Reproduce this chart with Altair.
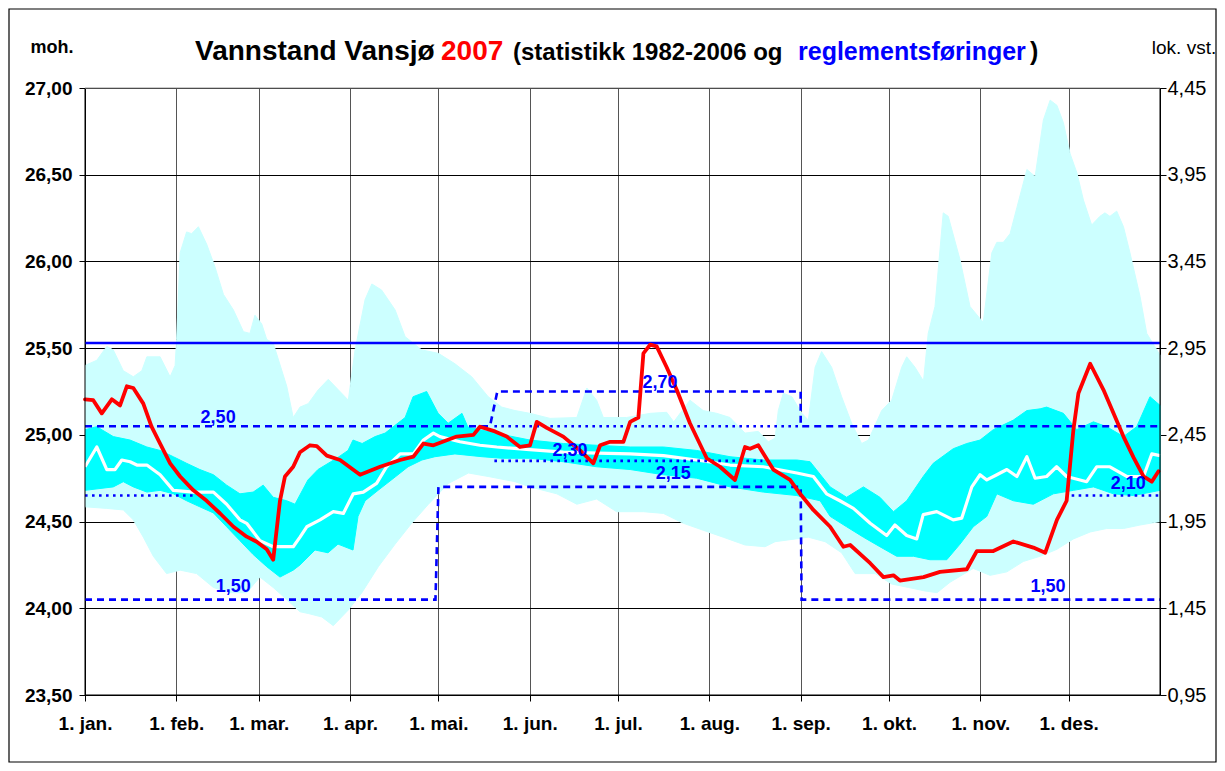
import json
import altair as alt
import pandas as pd

# moh. = lok. vst. + OFFSET
OFFSET = 22.55

# x = day of year 2007 (0 = 1 January)
month_days = [0, 31, 59, 90, 120, 151, 181, 212, 243, 273, 304, 334]
month_labels = ["1. jan.", "1. feb.", "1. mar.", "1. apr.", "1. mai.", "1. jun.",
                "1. jul.", "1. aug.", "1. sep.", "1. okt.", "1. nov.", "1. des."]
y_ticks = [23.5, 24.0, 24.5, 25.0, 25.5, 26.0, 26.5, 27.0]

# Water level 2007 (moh.)
red_day = [0, 2.8, 5.7, 9.1, 11.9, 14.2, 16.4, 19.8, 22.6, 25.5,
           28.9, 32.3, 36.8, 41.3, 45.8, 50.4, 54.9, 58.3, 61.7, 63.9,
           66.2, 67.9, 70.7, 73.0, 76.4, 78.7, 82.1, 86.6, 93.4, 100.2,
           107.0, 111.5, 114.9, 118.3, 126.2, 131.9, 134.1, 139.2, 143.2, 147.7,
           151.1, 153.4, 156.8, 162.4, 168.1, 172.6, 174.9, 178.3, 182.8, 185.1,
           187.9, 189.6, 191.9, 194.1, 197.5, 200.9, 205.4, 211.1, 215.6, 220.7,
           224.1, 225.8, 228.6, 233.7, 239.4, 242.8, 247.3, 253.0, 257.5, 259.8,
           266.6, 271.1, 274.5, 276.7, 284.7, 290.3, 299.4, 302.8, 308.4, 315.2,
           322.0, 326.0, 330.0, 333.3, 335.6, 337.3, 341.3, 345.8, 352.6, 356.0,
           359.4, 362.2, 364.5]
red_moh = [25.205, 25.20, 25.124, 25.205, 25.17, 25.28, 25.27, 25.18, 25.047, 24.95,
           24.836, 24.76, 24.68, 24.62, 24.548, 24.47, 24.413, 24.384, 24.34, 24.28,
           24.62, 24.76, 24.816, 24.90, 24.94, 24.935, 24.88, 24.855, 24.77, 24.816,
           24.855, 24.874, 24.95, 24.94, 24.99, 25.00, 25.047, 25.02, 24.99, 24.93,
           24.94, 25.075, 25.04, 24.99, 24.91, 24.836, 24.94, 24.96, 24.96, 25.075,
           25.10, 25.47, 25.52, 25.51, 25.39, 25.26, 25.067, 24.865, 24.816, 24.74,
           24.93, 24.92, 24.94, 24.80, 24.74, 24.66, 24.567, 24.47, 24.355, 24.365,
           24.26, 24.18, 24.19, 24.16, 24.18, 24.21, 24.225, 24.33, 24.33, 24.385,
           24.35, 24.32, 24.51, 24.62, 25.03, 25.24, 25.41, 25.26, 24.99, 24.87,
           24.76, 24.73, 24.79]

# Median 1982-2006 (white line)
med_day = [0, 4.0, 7.4, 10.2, 12.5, 15.3, 17.6, 21.0, 25.5, 30.0,
           36.8, 43.6, 48.1, 52.6, 54.9, 59.4, 63.9, 68.5, 70.7, 73.0,
           75.3, 79.8, 84.3, 87.7, 91.1, 94.5, 99.0, 102.4, 107.0, 111.5,
           114.9, 118.3, 120.5, 127.3, 134.1, 139.8, 151, 162.4, 174, 185.1,
           196.4, 207.7, 219.0, 230.3, 241.7, 247.3, 251.8, 256.3, 260.9, 266.6,
           272.2, 275.0, 279.0, 282.4, 284.6, 289.2, 294.8, 297.7, 301.1, 303.9,
           306.2, 309.6, 313.0, 316.4, 319.8, 322.6, 326.5, 329.9, 333.3, 340.1,
           343.5, 348.0, 353.7, 359.4, 362.2, 365]
med_moh = [24.816, 24.93, 24.80, 24.80, 24.855, 24.845, 24.826, 24.826, 24.77, 24.68,
           24.67, 24.67, 24.60, 24.51, 24.49, 24.39, 24.355, 24.355, 24.355, 24.41,
           24.47, 24.51, 24.557, 24.547, 24.66, 24.67, 24.72, 24.816, 24.89, 24.89,
           24.97, 25.01, 24.99, 24.96, 24.94, 24.93, 24.915, 24.90, 24.895, 24.89,
           24.88, 24.855, 24.826, 24.816, 24.78, 24.76, 24.66, 24.62, 24.576, 24.49,
           24.42, 24.48, 24.42, 24.40, 24.54, 24.557, 24.51, 24.52, 24.70, 24.77,
           24.74, 24.77, 24.80, 24.76, 24.874, 24.75, 24.76, 24.816, 24.76, 24.73,
           24.816, 24.816, 24.76, 24.76, 24.89, 24.88]

# Inner band (cyan), upper edge
q_hi_day = [0, 4.0, 9.6, 15.3, 21.0, 25.5, 30.0, 34.5, 39.0, 43.6,
            48.1, 52.6, 57.1, 60.5, 63.9, 68.5, 71.3, 75.7, 79.1, 85.9,
            89.3, 91.0, 94.1, 98.5, 101.9, 108.7, 111.4, 116.0, 119.9, 123.3,
            128.0, 130.0, 139.2, 151.1, 162.4, 173.7, 185.1, 196.4, 207.7, 219.0,
            230.3, 241.7, 246.2, 253.0, 258.6, 264.3, 269.9, 274.5, 279.0, 284.6,
            288.0, 294.8, 299.4, 303.9, 308.4, 315.2, 319.8, 324.3, 326.5, 332.2,
            336.7, 342.4, 346.9, 352.6, 357.1, 361.6, 365]
q_hi_moh = [25.03, 25.047, 24.99, 24.97, 24.93, 24.91, 24.874, 24.836, 24.80, 24.77,
            24.71, 24.66, 24.67, 24.71, 24.64, 24.62, 24.60, 24.74, 24.80, 24.87,
            24.91, 24.97, 24.95, 24.99, 25.01, 25.10, 25.22, 25.25, 25.124, 25.067,
            25.124, 25.045, 25.01, 24.97, 24.95, 24.94, 24.93, 24.93, 24.91, 24.874,
            24.855, 24.855, 24.845, 24.70, 24.64, 24.70, 24.64, 24.557, 24.62, 24.76,
            24.836, 24.92, 24.95, 24.97, 25.03, 25.085, 25.14, 25.15, 25.16, 25.124,
            25.03, 25.075, 25.047, 24.99, 25.047, 25.22, 25.17]
# Inner band (cyan), lower edge
q_lo_day = [0, 9.6, 13.0, 16.4, 21.0, 25.5, 30.0, 34.5, 39.0, 43.6,
            48.1, 52.6, 57.1, 61.7, 66.2, 70.7, 73.0, 78.1, 82.5, 85.9,
            91.0, 92.7, 95.1, 99.5, 105.3, 109.7, 114.4, 118.8, 125.6, 134.8,
            141.6, 151.1, 162.4, 173.7, 185.1, 196.4, 207.7, 219.0, 230.3, 241.7,
            249.6, 253.0, 258.6, 264.3, 269.9, 275.6, 281.3, 286.9, 292.6, 297.1,
            301.6, 306.2, 309.6, 315.2, 322.0, 328.8, 335.6, 342.4, 349.2, 356.0, 365]
q_lo_moh = [24.68, 24.70, 24.73, 24.70, 24.67, 24.68, 24.66, 24.62, 24.585, 24.55,
            24.47, 24.39, 24.31, 24.24, 24.18, 24.22, 24.25, 24.336, 24.32, 24.37,
            24.336, 24.53, 24.62, 24.68, 24.757, 24.816, 24.855, 24.874, 24.89, 24.874,
            24.865, 24.865, 24.845, 24.816, 24.80, 24.77, 24.75, 24.70, 24.67, 24.65,
            24.62, 24.53, 24.47, 24.41, 24.355, 24.30, 24.30, 24.28, 24.28, 24.37,
            24.47, 24.53, 24.66, 24.62, 24.60, 24.66, 24.68, 24.70, 24.66, 24.65, 24.68]

# Outer band (light cyan, min-max), upper edge
m_hi_day = [0, 4.0, 7.4, 9.6, 13.0, 16.4, 19.3, 21.0, 25.5, 28.9,
            30.6, 31.1, 32.3, 34.5, 36.2, 38.5, 41.3, 44.1, 47.0, 50.4,
            53.8, 56.0, 57.7, 60.0, 61.7, 63.9, 68.5, 70.7, 73.0, 75.8,
            79.2, 82.6, 86.0, 89.4, 91.7, 95.1, 97.4, 100.7, 105.3, 108.7,
            114.3, 120.0, 125.6, 131.3, 136.9, 141.5, 146.0, 151.1, 157.9, 167.0,
            170.4, 173.7, 176.0, 183.9, 191.9, 197.5, 199.9, 205.4, 209.9, 214.5,
            219.0, 224.1, 228.6, 232.0, 234.3, 235.4, 237.1, 240.0, 243.4, 245.6,
            247.9, 250.1, 253.5, 256.9, 260.3, 263.7, 266.0, 270.5, 273.9, 277.3,
            279.0, 281.8, 284.7, 286.3, 288.6, 291.4, 293.1, 297.1, 300.5, 303.9,
            305.0, 307.9, 309.6, 311.8, 314.1, 316.4, 319.8, 322.6, 325.4, 327.7,
            330.0, 332.2, 334.5, 336.8, 339.0, 341.8, 344.6, 346.3, 348.0, 350.3,
            352.6, 354.8, 358.2, 360.5, 365]
m_hi_moh = [25.40, 25.43, 25.51, 25.49, 25.37, 25.335, 25.37, 25.45, 25.45, 25.335,
            25.40, 25.55, 26.05, 26.17, 26.16, 26.20, 26.10, 25.97, 25.81, 25.72,
            25.595, 25.585, 25.69, 25.64, 25.55, 25.53, 25.28, 25.10, 25.16, 25.18,
            25.26, 25.32, 25.26, 25.20, 25.49, 25.78, 25.87, 25.835, 25.72, 25.566,
            25.49, 25.47, 25.41, 25.335, 25.22, 25.16, 25.14, 25.124, 25.095, 25.10,
            25.27, 25.20, 25.10, 25.10, 25.124, 25.13, 25.075, 25.20, 25.14, 25.124,
            25.10, 25.01, 25.02, 24.96, 24.98, 25.14, 25.24, 25.22, 25.124, 25.085,
            25.39, 25.48, 25.39, 25.22, 25.067, 24.95, 24.97, 25.14, 25.20, 25.39,
            25.45, 25.39, 25.31, 25.585, 25.74, 26.28, 26.26, 26.01, 25.74, 25.67,
            25.65, 26.05, 26.11, 26.11, 26.16, 26.31, 26.53, 26.49, 26.815, 26.93,
            26.90, 26.80, 26.62, 26.51, 26.354, 26.21, 26.26, 26.28, 26.26, 26.29,
            26.20, 26.05, 25.80, 25.585, 25.46]
# Outer band, lower edge
m_lo_day = [0, 7.4, 13.0, 16.4, 19.8, 23.2, 27.7, 32.3, 37.9, 43.6,
            49.2, 54.9, 59.4, 63.9, 68.5, 73.0, 75.8, 80.4, 84.3, 89.4,
            94.0, 99.6, 105.3, 110.9, 116.6, 123.4, 130.2, 136.9, 146.0, 151.1,
            160.2, 167.0, 173.7, 180.5, 189.6, 196.4, 203.2, 209.9, 216.7, 224.1,
            230.9, 234.3, 245.6, 251.3, 256.9, 261.5, 268.3, 273.9, 279.6, 285.2,
            289.3, 293.7, 301.6, 307.3, 313.0, 318.6, 324.3, 330.0, 335.6, 341.3,
            346.9, 352.6, 358.2, 365]
m_lo_moh = [24.585, 24.576, 24.567, 24.51, 24.41, 24.30, 24.20, 24.22, 24.20, 24.12,
            24.09, 24.09, 24.18, 24.12, 24.05, 23.98, 23.97, 23.95, 23.90, 23.99,
            24.09, 24.24, 24.37, 24.49, 24.60, 24.72, 24.78, 24.76, 24.73, 24.70,
            24.66, 24.60, 24.63, 24.557, 24.557, 24.547, 24.49, 24.45, 24.41, 24.365,
            24.355, 24.384, 24.41, 24.384, 24.32, 24.20, 24.20, 24.14, 24.12, 24.10,
            24.09, 24.15, 24.23, 24.19, 24.21, 24.27, 24.30, 24.34, 24.40, 24.44,
            24.46, 24.46, 24.48, 24.50]

# Regulation lines (lok. vst.)
flood_moh = 25.53
upper_reg_day = [0, 137.5, 140, 243, 243, 365]
upper_reg_lok = [2.50, 2.50, 2.70, 2.70, 2.50, 2.50]
lower_reg_day = [0, 119, 120, 243, 243.3, 365]
lower_reg_lok = [1.50, 1.50, 2.15, 2.15, 1.50, 1.50]
dot_series = ["a", "a", "b", "b", "c", "c", "d", "d"]
dot_day = [139, 243, 139, 230, 0, 37.5, 335, 365]
dot_lok = [2.50, 2.50, 2.30, 2.30, 2.10, 2.10, 2.10, 2.10]

label_text = ["2,50", "1,50", "2,70", "2,30", "2,15", "2,10", "1,50"]
label_day = [45.2, 50.3, 195.2, 164.7, 199.7, 354.2, 327.0]
label_lok = [2.55, 1.573, 2.75, 2.357, 2.224, 2.166, 1.573]

FONT = "Liberation Sans"
BLUE = "#0000FF"
W, H = 1075, 607

X = alt.Scale(domain=[0, 365], nice=False, zero=False)
Y = alt.Scale(domain=[23.5, 27.0], nice=False, zero=False)

month_expr = "%s[indexof(%s, datum.value)]" % (json.dumps(month_labels), json.dumps(month_days))

x_axis = alt.Axis(values=month_days, labelExpr=month_expr, grid=True, gridColor="#555555",
                  gridWidth=1, domainColor="black", tickColor="black", tickSize=6,
                  labelFont=FONT, labelFontSize=19, labelFontWeight="bold", labelColor="black",
                  labelPadding=13, labelOverlap=False, labelFlush=False, title=None)
y_axis = alt.Axis(values=y_ticks, labelExpr="replace(format(datum.value, '.2f'), '.', ',')",
                  grid=True, gridColor="black", gridWidth=1, domainColor="black",
                  tickColor="black", tickSize=6, labelFont=FONT, labelFontSize=19,
                  labelFontWeight="bold", labelColor="black", labelPadding=7, title=None)
y_axis_r = alt.Axis(orient="right", values=y_ticks,
                    labelExpr="replace(format(datum.value - %s, '.2f'), '.', ',')" % OFFSET,
                    grid=False, domainColor="black", tickColor="black", tickSize=6,
                    labelFont=FONT, labelFontSize=20, labelFontWeight="normal",
                    labelColor="black", labelPadding=1, title=None)


def polygon(hi_d, hi_v, lo_d, lo_v):
    d = list(hi_d) + list(reversed(lo_d))
    v = list(hi_v) + list(reversed(lo_v))
    return pd.DataFrame({"day": d, "moh": v, "ord": list(range(len(d)))})


def xe():
    return alt.X("day:Q", scale=X, axis=x_axis)


def ye():
    return alt.Y("moh:Q", scale=Y, axis=y_axis)


light = alt.Chart(polygon(m_hi_day, m_hi_moh, m_lo_day, m_lo_moh)).mark_line(
    color="#CCFFFF", fill="#CCFFFF", strokeWidth=1
).encode(x=xe(), y=ye(), order="ord:Q")

dark = alt.Chart(polygon(q_hi_day, q_hi_moh, q_lo_day, q_lo_moh)).mark_line(
    color="#00FFFF", fill="#00FFFF", strokeWidth=1
).encode(x=xe(), y=ye(), order="ord:Q")

median = alt.Chart(pd.DataFrame({"day": med_day, "moh": med_moh})).mark_line(
    color="white", strokeWidth=3.2, strokeJoin="round"
).encode(x=xe(), y=ye())

dot_df = pd.DataFrame({"s": dot_series, "day": dot_day,
                       "moh": [v + OFFSET for v in dot_lok]})
dotted = alt.Chart(dot_df).mark_line(color=BLUE, strokeWidth=2.6, strokeDash=[2.6, 4.4]).encode(
    x=xe(), y=ye(), detail="s:N")

reg_df = pd.DataFrame({
    "s": ["upper"] * len(upper_reg_day) + ["lower"] * len(lower_reg_day),
    "day": upper_reg_day + lower_reg_day,
    "moh": [v + OFFSET for v in upper_reg_lok + lower_reg_lok],
    "ord": list(range(len(upper_reg_day))) + list(range(len(lower_reg_day))),
})
dashed = alt.Chart(reg_df).mark_line(color=BLUE, strokeWidth=2.6, strokeDash=[7, 5]).encode(
    x=xe(), y=ye(), detail="s:N", order="ord:Q")

flood = alt.Chart(pd.DataFrame({"day": [0, 365], "moh": [flood_moh, flood_moh]})).mark_line(
    color=BLUE, strokeWidth=2.5).encode(x=xe(), y=ye())

red = alt.Chart(pd.DataFrame({"day": red_day, "moh": red_moh})).mark_line(
    color="#FF0000", strokeWidth=3.8, strokeJoin="round", strokeCap="round"
).encode(x=xe(), y=ye())

labels = alt.Chart(pd.DataFrame({"t": label_text, "day": label_day,
                                 "moh": [v + OFFSET for v in label_lok]})).mark_text(
    color=BLUE, font=FONT, fontSize=18, fontWeight="bold", align="center", baseline="middle"
).encode(x=xe(), y=ye(), text="t:N")

one = pd.DataFrame({"k": [0]})


def rule(x, x2, y, y2, color):
    return alt.Chart(one).mark_rule(color=color, strokeWidth=1).encode(
        x=alt.value(x), x2=alt.value(x2), y=alt.value(y), y2=alt.value(y2))


frame = alt.layer(
    rule(0, 0, 0, H, "black"),
    rule(W, W, 0, H, "black"),
    rule(0, W, H, H, "black"),
    rule(0, W, 0, 0, "#999999"),
)


def txt(s, x, y, size, color="black", weight="bold", align="left"):
    return alt.Chart(one).mark_text(
        text=s, font=FONT, fontSize=size, fontWeight=weight, color=color,
        align=align, baseline="alphabetic"
    ).encode(x=alt.value(x), y=alt.value(y))


texts = alt.layer(
    txt("Vannstand Vansjø", 110, -28, 28),
    txt("2007", 356, -28, 28, color="#FF0000"),
    txt("(statistikk 1982-2006 og", 428, -28, 24),
    txt("reglementsføringer", 713, -28, 25, color=BLUE),
    txt(")", 945, -28, 25),
    txt("moh.", -33, -35, 18, align="center"),
    txt("lok. vst.", 1099, -34, 19, weight="normal", align="center"),
)

outer = alt.Chart(one).mark_rect(fillOpacity=0, stroke="black", strokeWidth=1.2).encode(
    x=alt.value(-76), x2=alt.value(W + 56), y=alt.value(-79), y2=alt.value(H + 67))

main = alt.layer(light, dark, median, dotted, dashed, flood, red, labels, frame, texts, outer)

right = alt.Chart(pd.DataFrame({"moh": y_ticks})).mark_point(opacity=0).encode(
    y=alt.Y("moh:Q", scale=Y, axis=y_axis_r))

chart = alt.layer(main, right).resolve_scale(y="independent").properties(
    width=W, height=H,
    padding={"left": 77, "top": 80, "right": 57, "bottom": 68},
    autosize=alt.AutoSizeParams(type="none"),
    background="white",
).configure_view(strokeWidth=0)

chart.save("out.html", embed_options={"renderer": "svg", "actions": False})
